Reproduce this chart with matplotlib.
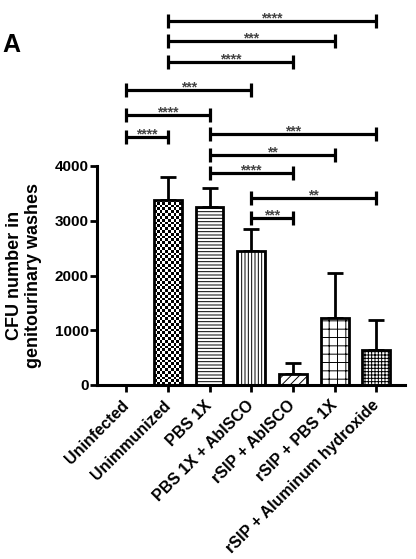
import numpy as np
import matplotlib
matplotlib.use("Agg")
from matplotlib import pyplot as plt

plt.rcParams['font.family'] = ['Liberation Sans', 'DejaVu Sans']
plt.rcParams['font.weight'] = 'bold'
plt.rcParams['hatch.linewidth'] = 0.7

groups = ['Uninfected', 'Unimmunized', 'PBS 1X', 'PBS 1X + AbISCO',
          'rSIP + AbISCO', 'rSIP + PBS 1X', 'rSIP + Aluminum hydroxide']
cfu = [0, 3380, 3245, 2447, 200, 1230, 640]
sem = [0, 410, 360, 396, 196, 821, 547]
hatches = [None, 'checker', '-----', '|||||', '////', '++', '+++++']
hatch_colors = ['black', 'black', '#555555', '#555555', '#555555', 'black', '#333333']

# comparisons: (group a, group b, bracket height, stars)
pair_a = [1, 1, 1, 0, 0, 0, 2, 2, 2, 3, 3]
pair_b = [6, 5, 4, 3, 2, 1, 6, 5, 4, 6, 4]
pair_y = [6654, 6289, 5894, 5388, 4932, 4535, 4579, 4201, 3878, 3421, 3045]
pair_stars = ['****', '***', '****', '***', '****', '****',
              '***', '**', '****', '**', '***']

fig = plt.figure(figsize=(4.16, 5.59), dpi=100)
ax = fig.add_axes([97 / 416, 174 / 559, 308 / 416, 219 / 559])

x = np.arange(len(groups))
bars = ax.bar(x, cfu, width=0.67, color='white', edgecolor='black',
              linewidth=2, zorder=2)
for b, h, hc in zip(bars, hatches, hatch_colors):
    if h is None:
        continue
    if h == 'checker':
        # checkerboard fill clipped to the bar
        b.set_facecolor('none')
        x0, w = b.get_x(), b.get_width()
        ny, nx = 66, 10
        cb = np.indices((ny, nx)).sum(axis=0) % 2
        im = ax.imshow(cb, cmap='gray', extent=(x0, x0 + w, 0, b.get_height()),
                       aspect='auto', interpolation='nearest', zorder=1.9)
        im.set_clip_path(b)
    else:
        b.set_hatch(h)
        try:
            b.set_hatchcolor(hc)
        except AttributeError:
            pass

ax.errorbar(x[1:], cfu[1:], yerr=[np.zeros(len(x) - 1), sem[1:]], fmt='none',
            ecolor='black', elinewidth=2, capsize=5.5, capthick=2, zorder=1)

ax.set_xlim(-0.70, 6.69)
ax.set_ylim(0, 4000)
ax.set_yticks([0, 1000, 2000, 3000, 4000])
ax.set_xticks(x)
ax.set_xticklabels(groups, rotation=45, ha='right', va='center',
                   rotation_mode='anchor', fontsize=11.5, fontweight='bold')
ax.tick_params(axis='y', labelsize=11, length=5, width=2, pad=1)
ax.tick_params(axis='x', length=5, width=2, pad=8)
for t in ax.get_yticklabels():
    t.set_fontweight('bold')

for s in ['top', 'right']:
    ax.spines[s].set_visible(False)
for s in ['left', 'bottom']:
    ax.spines[s].set_linewidth(2.2)

ax.set_ylabel('CFU number in\ngenitourinary washes', fontsize=13,
              fontweight='bold', labelpad=9, linespacing=1.15)

for a, b, y, s in zip(pair_a, pair_b, pair_y, pair_stars):
    ax.plot([a, b], [y, y], color='black', lw=2.3, clip_on=False,
            solid_capstyle='butt')
    ax.plot([a, b], [y, y], color='black', ls='none', marker='|', ms=10,
            mew=2.3, clip_on=False)
    ax.annotate(s, ((a + b) / 2, y), xytext=(0, -1), textcoords='offset points',
                ha='center', va='baseline', fontsize=10, color='#444444',
                annotation_clip=False)

fig.text(0.005, 1 - 52 / 559, 'A', fontsize=18, fontweight='bold',
         va='baseline', ha='left')

fig.savefig('out.png', dpi=100)
